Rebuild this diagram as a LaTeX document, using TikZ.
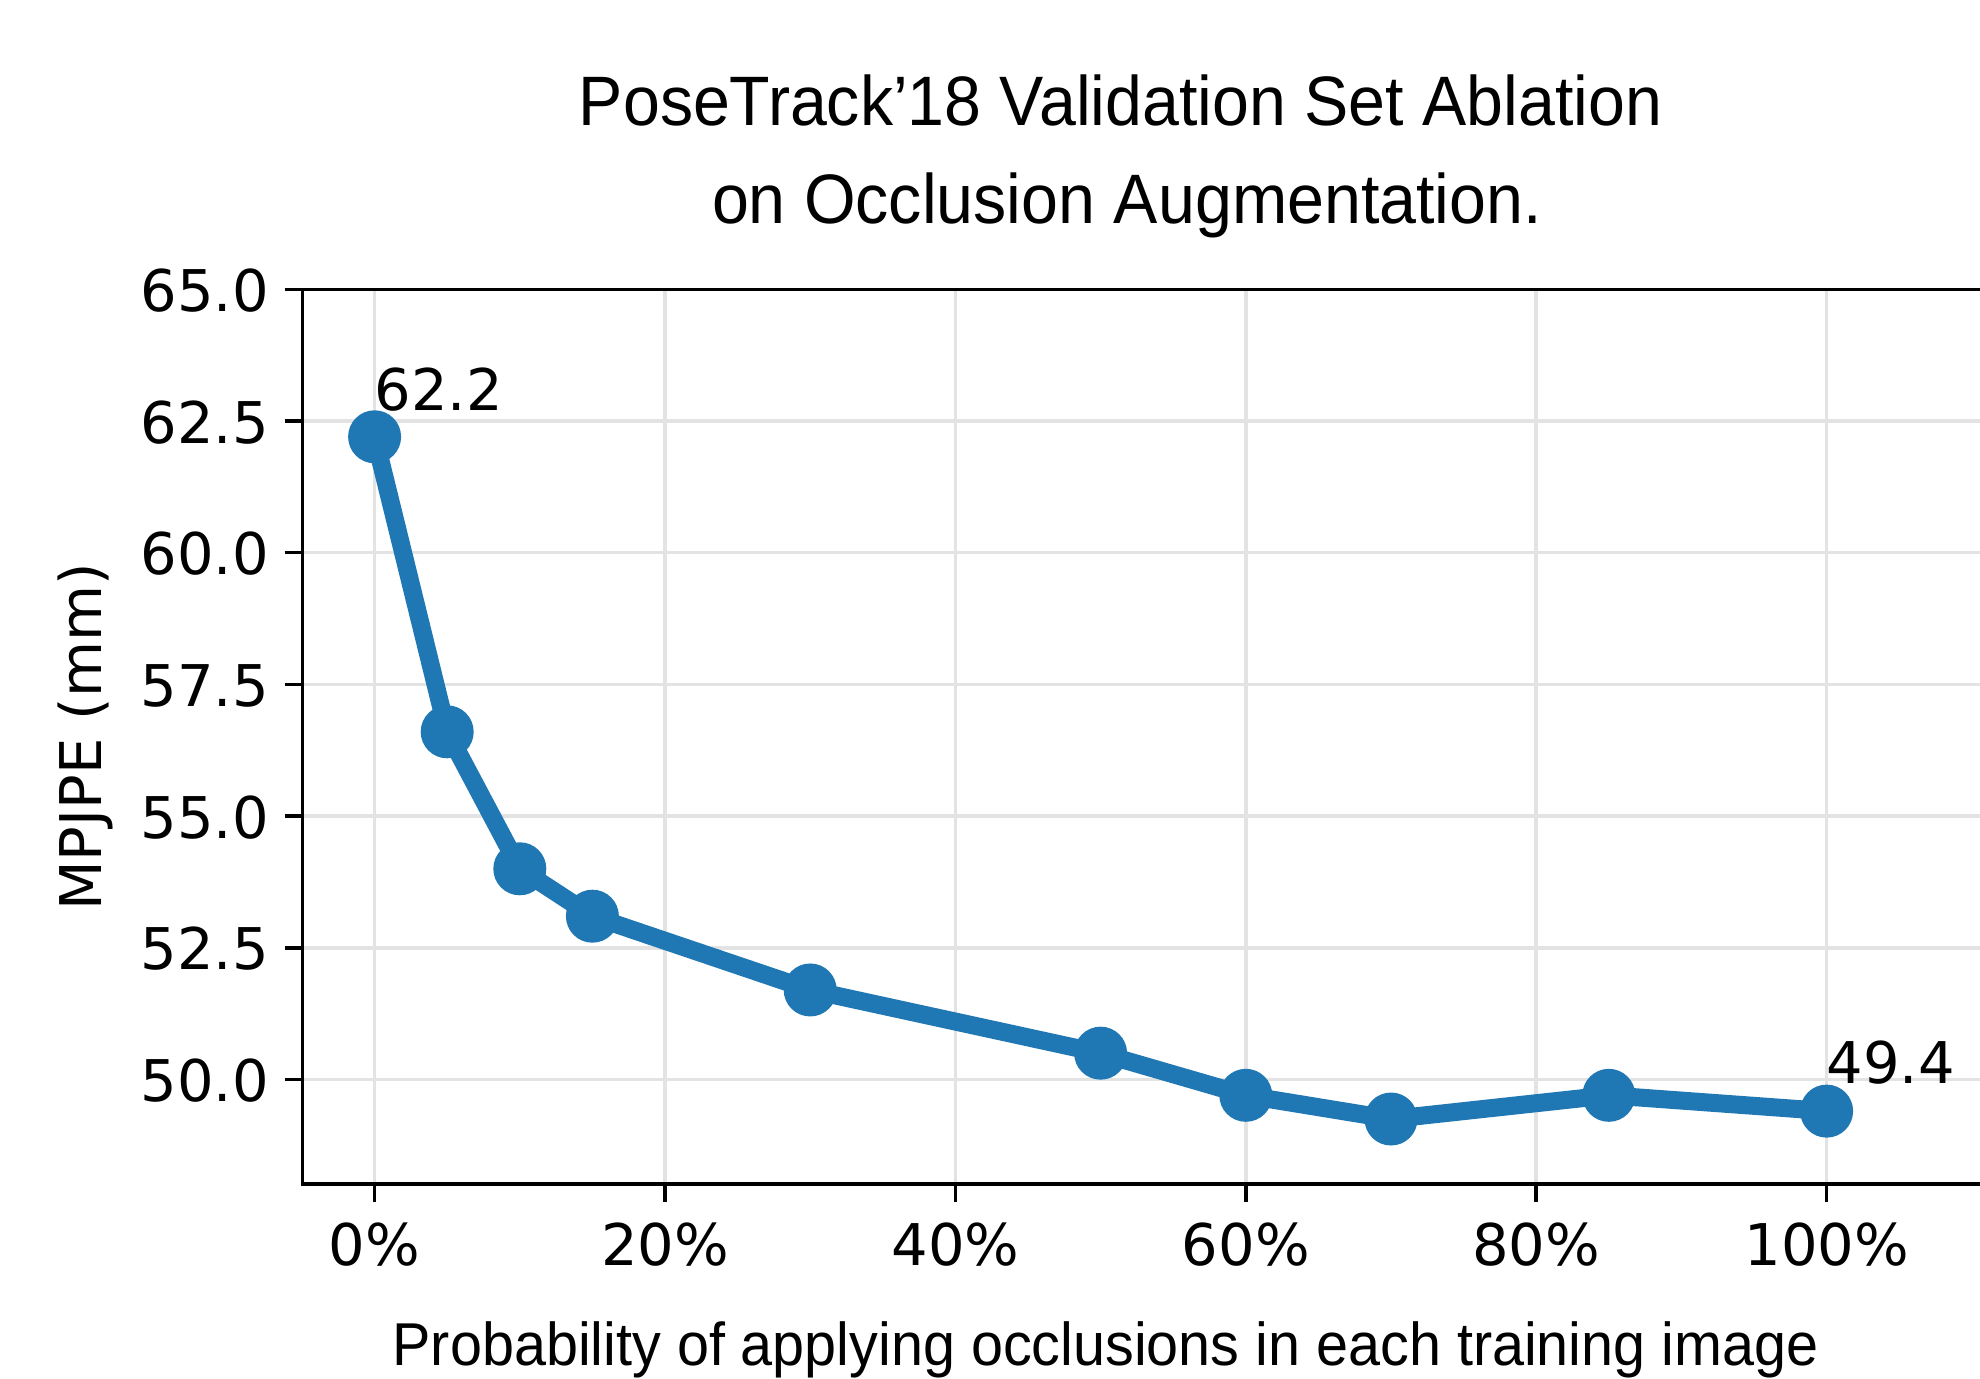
\documentclass[tikz,border=0pt]{standalone}
\usepackage{fontspec}
\usepackage{graphicx}
\newfontfamily\dvs{DejaVu Sans}
\newfontfamily\cond{Liberation Sans}
\definecolor{tabblue}{HTML}{1F77B4}
\begin{document}
\begin{tikzpicture}[x=1pt,y=-1pt,
  spine/.style={line width=3.5pt, black, line join=miter},
  gridl/.style={line width=3.5pt, black!11},
  tickm/.style={line width=3.5pt, black},
  ticklab/.style={font={\fontsize{57.5}{60}\dvs}, inner sep=0pt},
  titlelab/.style={font={\fontsize{70}{72}\cond}, inner sep=0pt},
  xlab/.style={font={\fontsize{60.5}{62}\cond}, inner sep=0pt},
  series/.style={line width=18pt, tabblue, line join=round},
  mk/.style={circle, fill=tabblue, minimum size=53pt, inner sep=0pt},
]
\useasboundingbox (0,0) rectangle (1980,1378);
\fill[white] (0,0) rectangle (1980,1378);

% grid
\foreach \v in {50,52.5,55,57.5,60,62.5}
  \draw[gridl] (302.3,{289.3+52.68*(65-\v)}) -- (1980,{289.3+52.68*(65-\v)});
\foreach \p in {0,20,40,60,80,100}
  \draw[gridl] ({374.6+14.52*\p},289.3) -- ({374.6+14.52*\p},1183.8);

% spines
\draw[spine] (1980,289.3) -- (302.3,289.3) -- (302.3,1183.8) -- (1980,1183.8);

% y ticks
\foreach \v/\t [count=\i] in {50/50.0,52.5/52.5,55/55.0,57.5/57.5,60/60.0,62.5/62.5,65/65.0}{
  \draw[tickm] (284.5,{289.3+52.68*(65-\v)}) -- (302.3,{289.3+52.68*(65-\v)});
  \node[ticklab, anchor=base east] (yt\i) at (269,{289.3+52.68*(65-\v)+22}) {\t};
}
% x ticks
\foreach \p [count=\i] in {0,20,40,60,80,100}{
  \draw[tickm] ({374.6+14.52*\p},1183.8) -- ({374.6+14.52*\p},1201.8);
  \node[ticklab, anchor=base] (xt\i) at ({374.6+14.52*\p},1265) {\p\%};
}

% data
\foreach \p/\v [count=\i] in {0/62.2,5/56.6,10/54.0,15/53.1,30/51.7,50/50.5,60/49.7,70/49.25,85/49.7,100/49.4}
  \coordinate (d\i) at ({374.6+14.52*\p},{289.3+52.68*(65-\v)});
\draw[series] (d1) -- (d2) -- (d3) -- (d4) -- (d5) -- (d6) -- (d7) -- (d8) -- (d9) -- (d10);
\foreach \i in {1,...,10}
  \node[mk] (m\i) at (d\i) {};

% annotations
\node[ticklab, anchor=base west] (a1) at (374.6,410.5) {62.2};
\node[ticklab, anchor=base west] (a2) at (1826.6,1083.5) {49.4};

% title
\node[titlelab, anchor=base] (t1) at (1120.5,125) {\resizebox{1083pt}{\height}{PoseTrack’18 Validation Set Ablation}};
\node[titlelab, anchor=base] (t2) at (1127,223.3) {\resizebox{830pt}{\height}{on Occlusion Augmentation.}};

% axis labels
\node[xlab, anchor=base] (xl) at (1105.6,1365) {\resizebox{1426pt}{\height}{Probability of applying occlusions in each training image}};
\node[ticklab, rotate=90, anchor=base] (yl) at (101.7,737) {MPJPE (mm)};
\end{tikzpicture}
\end{document}
